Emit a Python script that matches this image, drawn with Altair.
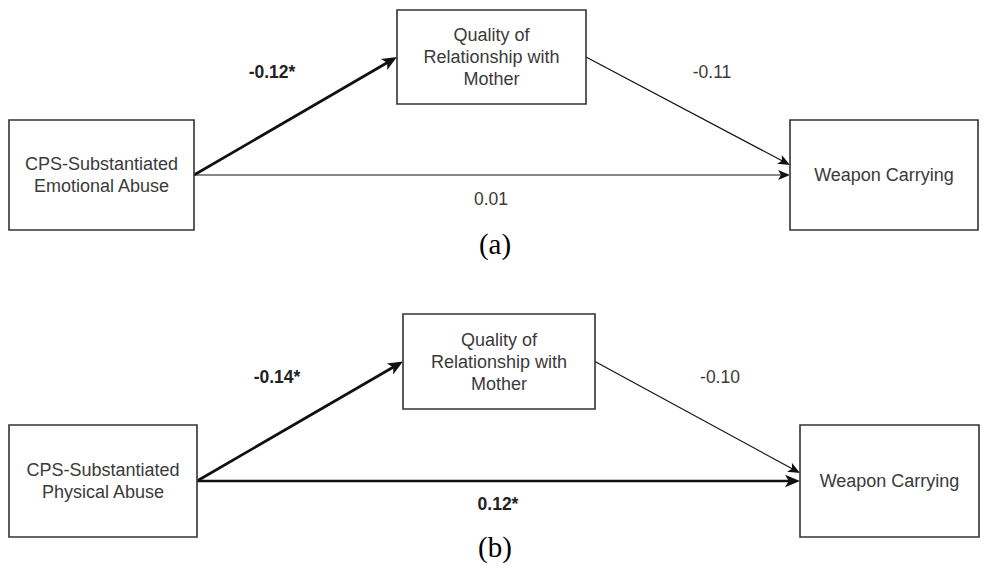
import math
import altair as alt
import pandas as pd

# ---------------- data ----------------
panel_labels = ["(a)", "(b)"]
predictors = ["CPS-Substantiated\nEmotional Abuse", "CPS-Substantiated\nPhysical Abuse"]
mediator = "Quality of\nRelationship with\nMother"
outcome = "Weapon Carrying"
coef_x_m = ["-0.12*", "-0.14*"]   # predictor -> mediator
coef_m_y = ["-0.11", "-0.10"]     # mediator -> outcome
coef_x_y = ["0.01", "0.12*"]      # predictor -> outcome (direct)

# ---------------- layout (page pixels) ----------------
box_pred = [(9, 194, 120, 230), (9, 197, 425, 537)]
box_med = [(397, 586, 10, 104), (403, 595, 314, 409)]
box_out = [(790, 978, 120, 230), (800, 979, 425, 537)]
my_end_shift = [-10, -8]
lab_x_m = [(272, 73), (277, 378)]
lab_m_y = [(712, 73), (720, 378)]
lab_x_y = [(491, 200), (498, 505)]
lab_panel = [(495, 245), (495, 548)]
LINE_H = 22

HEAD = "M0,0L-1,-0.42L-0.75,0L-1,0.42Z"

box_rows, edge_rows, lab_rows, pan_rows = [], [], [], []
for i in range(2):
    for b, t in ((box_pred[i], predictors[i]), (box_med[i], mediator), (box_out[i], outcome)):
        n = t.count("\n") + 1
        box_rows.append(dict(x0=b[0], x1=b[1], y0=b[2], y1=b[3],
                             cx=(b[0] + b[1]) / 2,
                             cy=(b[2] + b[3]) / 2 - (n - 1) * LINE_H / 2 + 1,
                             text=t))
    P, M, O = box_pred[i], box_med[i], box_out[i]
    pcy, mcy, ocy = (P[2] + P[3]) / 2, (M[2] + M[3]) / 2, (O[2] + O[3]) / 2
    edges = [
        ((P[1], pcy), (M[0], mcy), coef_x_m[i], lab_x_m[i]),
        ((M[1], mcy), (O[0], ocy + my_end_shift[i]), coef_m_y[i], lab_m_y[i]),
        ((P[1], pcy), (O[0], ocy), coef_x_y[i], lab_x_y[i]),
    ]
    for (sx, sy), (tx, ty), c, lp in edges:
        sig = c.endswith("*")
        L = 15 if sig else 12
        dx, dy = tx - sx, ty - sy
        d = math.hypot(dx, dy)
        ux, uy = dx / d, dy / d
        ang = math.degrees(math.atan2(dy, dx)) % 360
        edge_rows.append(dict(xs=sx, ys=sy, xe=tx - ux * L * 0.7, ye=ty - uy * L * 0.7,
                              xt=tx, yt=ty, ang=ang, sz=4 * L * L,
                              w=2.7 if sig else 1.2))
        lab_rows.append(dict(x=lp[0], y=lp[1], text=c, sig=sig))
    pan_rows.append(dict(x=lab_panel[i][0], y=lab_panel[i][1], text=panel_labels[i]))

boxes = pd.DataFrame(box_rows)
edges_df = pd.DataFrame(edge_rows)
labs = pd.DataFrame(lab_rows)
pans = pd.DataFrame(pan_rows)

xs = alt.Scale(domain=[8, 981], nice=False, zero=False)
ys = alt.Scale(domain=[8, 563], nice=False, zero=False, reverse=True)

def X(f):
    return alt.X(f, type="quantitative", scale=xs, axis=None)

def Y(f):
    return alt.Y(f, type="quantitative", scale=ys, axis=None)

rects = alt.Chart(boxes).mark_rect(fill="white", stroke="#333333", strokeWidth=1.6).encode(
    x=X("x0"), x2="x1:Q", y=Y("y0"), y2="y1:Q")

box_text = alt.Chart(boxes).mark_text(
    font="Liberation Sans", fontSize=18, lineBreak="\n", lineHeight=LINE_H,
    color="#3a3a3a", align="center", baseline="middle").encode(
    x=X("cx"), y=Y("cy"), text="text:N")

rules = alt.Chart(edges_df).mark_rule(color="#111111").encode(
    x=X("xs"), y=Y("ys"), x2="xe:Q", y2="ye:Q",
    strokeWidth=alt.StrokeWidth("w:Q", scale=None))

heads = alt.Chart(edges_df).mark_point(shape=HEAD, filled=True, color="#111111", opacity=1).encode(
    x=X("xt"), y=Y("yt"),
    angle=alt.Angle("ang:Q", scale=None),
    size=alt.Size("sz:Q", scale=None))

lab_bold = alt.Chart(labs).transform_filter("datum.sig").mark_text(
    font="Liberation Sans", fontSize=17.5, fontWeight="bold", color="#222222",
    align="center", baseline="middle").encode(x=X("x"), y=Y("y"), text="text:N")

lab_norm = alt.Chart(labs).transform_filter("!datum.sig").mark_text(
    font="Liberation Sans", fontSize=17.5, color="#3a3a3a",
    align="center", baseline="middle").encode(x=X("x"), y=Y("y"), text="text:N")

pan_text = alt.Chart(pans).mark_text(
    font="Liberation Serif", fontSize=29, color="#000000",
    align="center", baseline="middle").encode(x=X("x"), y=Y("y"), text="text:N")

chart = alt.layer(rules, heads, rects, box_text, lab_bold, lab_norm, pan_text).properties(
    width=973, height=555, padding=0, autosize="none", background="white"
).configure_view(stroke=None)

chart.save("out.html", embed_options={"renderer": "svg", "actions": False})
